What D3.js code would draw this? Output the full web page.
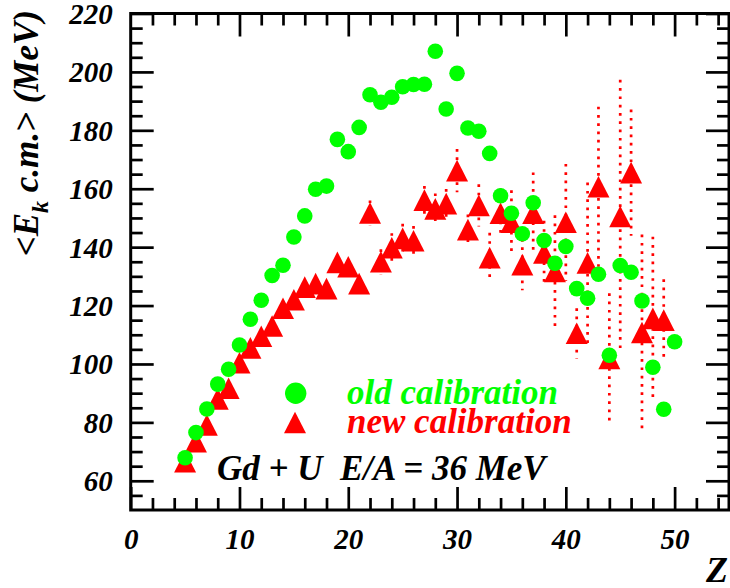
<!DOCTYPE html>
<html>
<head>
<meta charset="utf-8">
<script src="https://cdn.jsdelivr.net/npm/d3@7"></script>
<style>
  html, body { margin: 0; padding: 0; background: #fff; }
  svg { display: block; }
  text { font-family: "Liberation Serif", "Times New Roman", serif; font-weight: bold; font-style: italic; }
</style>
</head>
<body>
<svg id="chart" width="730" height="588"></svg>
<script>
// Mean c.m. kinetic energy of fragments vs. charge Z, Gd + U at 36 MeV/nucleon

// old calibration (circles)
const zOld = d3.range(5, 51);
const ekOld = [67.9, 76.5, 84.6, 93.1, 98.2, 106.5, 115.3, 121.8, 130.3, 133.8,
               143.5, 150.7, 159.8, 160.9, 176.9, 172.7, 181.0, 192.2, 189.6, 191.3,
               194.9, 195.7, 195.8, 207.1, 187.3, 199.5, 180.8, 179.7, 172.1, 157.6,
               151.6, 144.6, 155.2, 142.3, 134.5, 140.2, 125.8, 122.5, 130.7, 103.0,
               133.7, 131.4, 121.6, 98.9, 84.5, 107.6];

// new calibration (triangles) with errors
const zNew = d3.range(5, 50);
const ekNew = [66.5, 73.4, 79.1, 88.0, 91.7, 100.4, 105.5, 109.5, 113.0, 119.1,
               122.0, 126.3, 127.5, 125.8, 134.8, 133.3, 127.5, 151.7, 135.0, 139.8,
               143.0, 142.2, 156.1, 153.1, 154.9, 166.2, 146.0, 154.3, 136.4, 151.6,
               148.5, 134.0, 151.6, 138.0, 131.7, 148.5, 110.5, 134.6, 160.7, 101.9,
               150.5, 165.5, 110.8, 115.6, 115.0];
const errNew = [1.0, 1.0, 1.2, 1.2, 1.3, 1.4, 1.5, 1.6, 1.7, 1.8,
                2.0, 2.0, 2.2, 2.4, 2.5, 2.5, 2.5, 4.3, 4.3, 5.0,
                5.0, 5.0, 4.8, 5.3, 5.0, 7.4, 5.2, 7.2, 8.5, 8.5,
                11.0, 8.8, 14.0, 11.0, 19.2, 20.0, 8.6, 27.5, 27.4, 22.3,
                46.8, 21.6, 33.5, 28.0, 14.0];

const xTicks = [0, 10, 20, 30, 40, 50];
const xMinor = d3.range(2, 55, 2).filter(v => v % 10 !== 0);
const yTicks = [60, 80, 100, 120, 140, 160, 180, 200, 220];
const yMinor = d3.range(55, 220, 5).filter(v => v % 20 !== 0);

const legendLabels = ["old calibration", "new calibration"];
const systemLabel = "Gd + U  E/A = 36 MeV";

const GREEN = "#00ff00", RED = "#ff0000";

const svg = d3.select("#chart");
const L = 130.7, R = 729, T = 13.5, B = 510;

const x = d3.scaleLinear().domain([0, 55]).range([L, R]);
const y = d3.scaleLinear().domain([50, 220]).range([B, T]);

const MAJ = 23, MIN = 12, TW = 2.7, FS = 29;

function styleAxis(g, labels) {
  g.select(".domain").remove();
  g.selectAll(".tick line").attr("stroke", "#000").attr("stroke-width", TW);
  if (!labels) g.selectAll(".tick text").remove();
  return g;
}

// bottom axis with labels
const gb = svg.append("g").attr("transform", `translate(0,${B})`)
  .call(d3.axisBottom(x).tickValues(xTicks).tickSizeInner(-MAJ).tickSizeOuter(0).tickFormat(d3.format("d")));
styleAxis(gb, true);
gb.selectAll(".tick text").attr("y", 39).attr("dy", 0).style("font-size", FS + "px").attr("fill", "#000");
svg.append("g").attr("transform", `translate(0,${B})`)
  .call(d3.axisBottom(x).tickValues(xMinor).tickSizeInner(-MIN).tickSizeOuter(0).tickFormat(""))
  .call(g => styleAxis(g, false));

// top axis ticks
svg.append("g").attr("transform", `translate(0,${T})`)
  .call(d3.axisTop(x).tickValues(xTicks.filter(v => v > 0)).tickSizeInner(-MAJ).tickSizeOuter(0).tickFormat(""))
  .call(g => styleAxis(g, false));
svg.append("g").attr("transform", `translate(0,${T})`)
  .call(d3.axisTop(x).tickValues(xMinor).tickSizeInner(-MIN).tickSizeOuter(0).tickFormat(""))
  .call(g => styleAxis(g, false));

// left axis with labels
const gl = svg.append("g").attr("transform", `translate(${L},0)`)
  .call(d3.axisLeft(y).tickValues(yTicks).tickSizeInner(-MAJ).tickSizeOuter(0).tickFormat(d3.format("d")));
styleAxis(gl, true);
gl.selectAll(".tick text").attr("x", -18).attr("dy", "0.34em").style("font-size", FS + "px").attr("fill", "#000");
svg.append("g").attr("transform", `translate(${L},0)`)
  .call(d3.axisLeft(y).tickValues(yMinor).tickSizeInner(-MIN).tickSizeOuter(0).tickFormat(""))
  .call(g => styleAxis(g, false));

// right axis ticks
svg.append("g").attr("transform", `translate(${R},0)`)
  .call(d3.axisRight(y).tickValues(yTicks).tickSizeInner(-MAJ).tickSizeOuter(0).tickFormat(""))
  .call(g => styleAxis(g, false));
svg.append("g").attr("transform", `translate(${R},0)`)
  .call(d3.axisRight(y).tickValues(yMinor).tickSizeInner(-MIN).tickSizeOuter(0).tickFormat(""))
  .call(g => styleAxis(g, false));

// frame
svg.append("rect").attr("x", L).attr("y", T).attr("width", R - L).attr("height", B - T)
  .attr("fill", "none").attr("stroke", "#000").attr("stroke-width", 3);

// data
const newPts = zNew.map((z, i) => ({ z, v: ekNew[i], e: errNew[i] }));
const oldPts = zOld.map((z, i) => ({ z, v: ekOld[i] }));

const TRI_W = 22, TRI_H = 21.6;
const triPath = (cx, cy, w, h) =>
  `M${cx},${cy - h / 2}L${cx + w / 2},${cy + h / 2}L${cx - w / 2},${cy + h / 2}Z`;

// dotted error bars
svg.append("g").selectAll("line").data(newPts).join("line")
  .attr("x1", d => x(d.z)).attr("x2", d => x(d.z))
  .attr("y1", d => y(d.v + d.e)).attr("y2", d => y(d.v - d.e))
  .attr("stroke", RED).attr("stroke-width", 2.7)
  .attr("stroke-dasharray", "2.7 5.6");

// triangles
svg.append("g").selectAll("path").data(newPts).join("path")
  .attr("d", d => triPath(x(d.z), y(d.v), TRI_W, TRI_H))
  .attr("fill", RED);

// circles
svg.append("g").selectAll("circle").data(oldPts).join("circle")
  .attr("cx", d => x(d.z)).attr("cy", d => y(d.v)).attr("r", 7.8)
  .attr("fill", GREEN);

// legend
const LFS = 35;
svg.append("circle").attr("cx", 295.7).attr("cy", 393.3).attr("r", 10.7).attr("fill", GREEN);
svg.append("path").attr("d", triPath(295, 422.5, TRI_W, TRI_H)).attr("fill", RED);
svg.append("text").attr("x", 347).attr("y", 404).style("font-size", LFS + "px")
  .attr("fill", GREEN).text(legendLabels[0]);
svg.append("text").attr("x", 347).attr("y", 433).style("font-size", LFS + "px")
  .attr("fill", RED).text(legendLabels[1]);
svg.append("text").attr("x", 217).attr("y", 480).style("font-size", LFS + "px")
  .style("white-space", "pre").attr("xml:space", "preserve")
  .attr("fill", "#000").text(systemLabel);

// axis titles
svg.append("text").attr("x", 728).attr("y", 582).attr("text-anchor", "end")
  .style("font-size", "36px").attr("fill", "#000").text("Z");

const yt = svg.append("text").attr("transform", "translate(38,10) rotate(-90)")
  .attr("text-anchor", "end").style("font-size", "35px").attr("fill", "#000");
yt.append("tspan").text("<E");
yt.append("tspan").attr("dy", 10).style("font-size", "24px").text("k");
yt.append("tspan").attr("dy", -10).text(" c.m.> (MeV)");
</script>
</body>
</html>
